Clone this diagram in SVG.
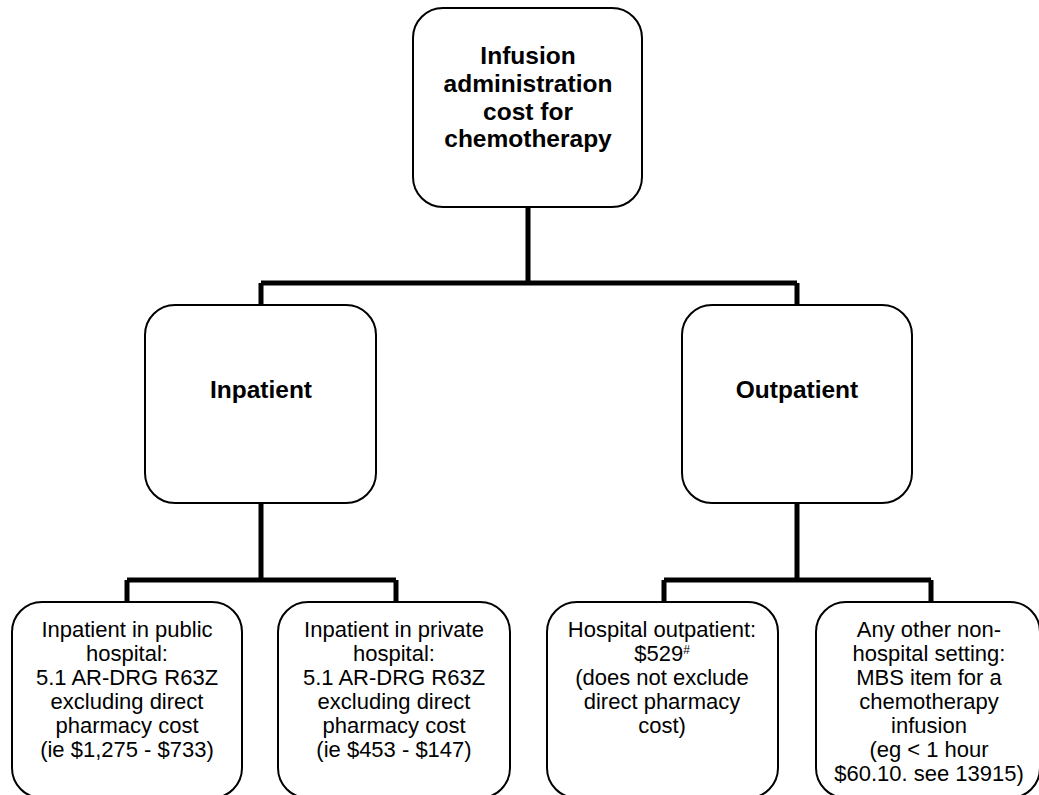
<svg xmlns="http://www.w3.org/2000/svg" width="1039" height="795" viewBox="0 0 1039 795">
<style>
.box{fill:#fff;stroke:#000;stroke-width:2}
.conn{fill:none;stroke:#000;stroke-width:5;stroke-linejoin:miter}
.b{font-family:"Liberation Sans",Arial,sans-serif;font-weight:bold;font-size:24.5px;text-anchor:middle;fill:#000}
.r{font-family:"Liberation Sans",Arial,sans-serif;font-size:22px;text-anchor:middle;fill:#000}
.sup{font-size:12px}
</style>
<rect width="1039" height="795" fill="#fff"/>
<g id="connectors">
<path class="conn" d="M528,207 V283 M261,283 H797 M261,283 V305 M797,283 V305"/>
<path class="conn" d="M261,503 V580 M127,580 H396 M127,580 V602 M396,580 V602"/>
<path class="conn" d="M797,503 V580 M664,580 H931 M664,580 V602 M931,580 V602"/>
</g>
<g id="root">
<rect class="box" x="413" y="8" width="229" height="199" rx="30"/>
<text class="b" x="528" y="64">Infusion</text>
<text class="b" x="528" y="92">administration</text>
<text class="b" x="528" y="120">cost for</text>
<text class="b" x="528" y="147">chemotherapy</text>
</g>
<g id="inpatient">
<rect class="box" x="145" y="305" width="231" height="198" rx="30"/>
<text class="b" x="261" y="398">Inpatient</text>
</g>
<g id="outpatient">
<rect class="box" x="682" y="305" width="230" height="198" rx="30"/>
<text class="b" x="797" y="398">Outpatient</text>
</g>
<g id="public">
<rect class="box" x="12" y="602" width="230" height="196" rx="30"/>
<text class="r" x="127" y="637">Inpatient in public</text>
<text class="r" x="127" y="661">hospital:</text>
<text class="r" x="127" y="685">5.1 AR-DRG R63Z</text>
<text class="r" x="127" y="709">excluding direct</text>
<text class="r" x="127" y="733">pharmacy cost</text>
<text class="r" x="127" y="757">(ie $1,275 - $733)</text>
</g>
<g id="private">
<rect class="box" x="278" y="602" width="232" height="196" rx="30"/>
<text class="r" x="394" y="637">Inpatient in private</text>
<text class="r" x="394" y="661">hospital:</text>
<text class="r" x="394" y="685">5.1 AR-DRG R63Z</text>
<text class="r" x="394" y="709">excluding direct</text>
<text class="r" x="394" y="733">pharmacy cost</text>
<text class="r" x="394" y="757">(ie $453 - $147)</text>
</g>
<g id="hospital-outpatient">
<rect class="box" x="547" y="602" width="231" height="196" rx="30"/>
<text class="r" x="662" y="637">Hospital outpatient:</text>
<text class="r" x="662" y="661">$529<tspan class="sup" dy="-7">#</tspan></text>
<text class="r" x="662" y="685">(does not exclude</text>
<text class="r" x="662" y="709">direct pharmacy</text>
<text class="r" x="662" y="733">cost)</text>
</g>
<g id="non-hospital">
<rect class="box" x="816" y="602" width="224" height="196" rx="30"/>
<text class="r" x="929" y="637">Any other non-</text>
<text class="r" x="929" y="661">hospital setting:</text>
<text class="r" x="929" y="685">MBS item for a</text>
<text class="r" x="929" y="709">chemotherapy</text>
<text class="r" x="929" y="733">infusion</text>
<text class="r" x="929" y="757">(eg &lt; 1 hour</text>
<text class="r" x="929" y="781">$60.10. see 13915)</text>
</g>
</svg>
